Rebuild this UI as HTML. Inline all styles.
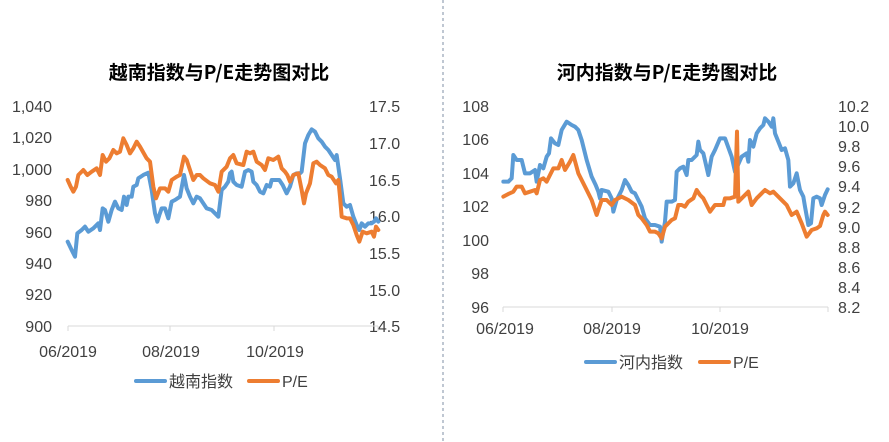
<!DOCTYPE html>
<html><head><meta charset="utf-8"><style>
body{margin:0;background:#fff;}
svg{display:block;font-family:"Liberation Sans","Noto Sans CJK SC",sans-serif;}
.t{font-size:16px;fill:#404040;}
.h{font-size:19px;font-weight:bold;fill:#000;font-family:"Noto Sans CJK SC","Liberation Sans",sans-serif;}
.l{fill:none;stroke-width:12;stroke-linejoin:round;stroke-linecap:round;}
</style></head><body>
<svg width="889" height="442" viewBox="0 0 889 442">
<line x1="443" y1="0" x2="443" y2="442" stroke="#7f8fa6" stroke-dasharray="3,3" stroke-width="1"/>
<!-- Left chart -->
<text class="h" x="219" y="79" text-anchor="middle">越南指数与P/E走势图对比</text>
<g class="t" text-anchor="end">
<text x="52" y="112">1,040</text><text x="52" y="143">1,020</text><text x="52" y="175">1,000</text>
<text x="52" y="206">980</text><text x="52" y="238">960</text><text x="52" y="269">940</text>
<text x="52" y="300">920</text><text x="52" y="332">900</text>
</g>
<g class="t">
<text x="369" y="112">17.5</text><text x="369" y="149">17.0</text><text x="369" y="186">16.5</text>
<text x="369" y="222">16.0</text><text x="369" y="259">15.5</text><text x="369" y="296">15.0</text>
<text x="369" y="332">14.5</text>
</g>
<line x1="68" y1="326" x2="378" y2="326" stroke="#d9d9d9"/>
<g stroke="#d9d9d9"><line x1="68" y1="326" x2="68" y2="331"/><line x1="170" y1="326" x2="170" y2="331"/><line x1="274" y1="326" x2="274" y2="331"/><line x1="378" y1="326" x2="378" y2="331"/></g>
<g class="t" text-anchor="middle"><text x="68" y="357">06/2019</text><text x="171" y="357">08/2019</text><text x="275" y="357">10/2019</text></g>
<g transform="translate(0,90) scale(0.33333)">
<polyline class="l" stroke="#5b9bd5" points="203,455 215,480 225,500 232,430 245,420 255,410 265,425 280,415 295,400 300,420 308,355 315,360 325,395 335,360 345,335 355,355 365,360 372,320 380,345 385,320 395,320 400,290 410,285 415,265 430,255 445,248 455,300 465,370 472,395 478,375 485,355 495,355 505,385 515,335 525,330 540,320 552,255 560,295 570,320 580,340 590,320 600,325 610,340 620,355 635,360 645,370 655,380 665,300 675,290 685,275 690,250 695,245 700,275 710,285 725,290 735,245 745,240 755,245 760,275 770,285 780,305 790,310 800,285 810,290 815,270 830,270 838,270 848,285 860,310 870,290 880,255 890,250 900,250 905,245 915,160 925,135 935,118 945,125 955,145 965,155 975,170 985,180 995,195 1005,210 1010,195 1020,265 1030,340 1040,350 1050,345 1060,380 1070,405 1078,420 1085,400 1095,410 1105,400 1115,400 1122,395 1128,385 1135,395"/>
<polyline class="l" stroke="#ed7d31" points="203,270 212,290 220,305 228,290 235,255 250,240 262,255 275,245 290,235 300,255 308,195 318,215 328,205 340,180 350,190 360,185 370,145 380,165 390,190 400,175 410,155 420,170 440,205 450,215 460,290 468,325 480,295 495,295 505,305 515,270 530,260 540,255 552,200 560,210 570,240 580,270 590,255 600,255 610,265 630,280 645,285 655,305 665,245 680,230 690,205 700,195 710,220 730,225 740,185 750,190 760,185 770,215 785,225 795,240 805,205 820,210 835,200 845,235 855,245 862,255 870,275 880,255 895,250 905,300 912,340 918,310 930,280 940,220 950,215 960,225 975,235 985,255 995,260 1008,280 1015,270 1020,320 1025,380 1040,385 1050,385 1060,405 1070,435 1078,455 1088,425 1100,430 1115,425 1122,440 1128,410 1135,420"/>
</g>
<line x1="136" y1="381" x2="165" y2="381" stroke="#5b9bd5" stroke-width="4" stroke-linecap="round"/>
<text class="t" x="169" y="387">越南指数</text>
<line x1="249" y1="381" x2="278" y2="381" stroke="#ed7d31" stroke-width="4" stroke-linecap="round"/>
<text class="t" x="282" y="387">P/E</text>
<!-- Right chart -->
<text class="h" x="667" y="79" text-anchor="middle">河内指数与P/E走势图对比</text>
<g class="t" text-anchor="end">
<text x="489" y="112">108</text><text x="489" y="145">106</text><text x="489" y="179">104</text>
<text x="489" y="212">102</text><text x="489" y="246">100</text><text x="489" y="279">98</text>
<text x="489" y="313">96</text>
</g>
<g class="t">
<text x="838" y="112">10.2</text><text x="838" y="132">10.0</text><text x="838" y="152">9.8</text>
<text x="838" y="172">9.6</text><text x="838" y="192">9.4</text><text x="838" y="213">9.2</text>
<text x="838" y="233">9.0</text><text x="838" y="253">8.8</text><text x="838" y="273">8.6</text>
<text x="838" y="293">8.4</text><text x="838" y="313">8.2</text>
</g>
<line x1="503" y1="307" x2="828" y2="307" stroke="#d9d9d9"/>
<g stroke="#d9d9d9"><line x1="503" y1="307" x2="503" y2="312"/><line x1="612" y1="307" x2="612" y2="312"/><line x1="720" y1="307" x2="720" y2="312"/><line x1="828" y1="307" x2="828" y2="312"/></g>
<g class="t" text-anchor="middle"><text x="505" y="334">06/2019</text><text x="612" y="334">08/2019</text><text x="720" y="334">10/2019</text></g>
<g transform="translate(445,90) scale(0.33333)">
<polyline class="l" stroke="#5b9bd5" points="175,275 190,275 200,265 205,195 215,210 230,210 240,250 255,250 270,240 275,275 285,225 295,235 305,200 312,190 318,145 330,160 340,165 350,120 365,95 380,105 390,110 400,120 410,150 425,210 440,260 452,285 460,305 465,325 470,300 490,305 500,325 505,365 515,330 530,300 540,270 550,285 560,305 570,310 580,330 590,350 600,385 615,405 630,405 645,410 650,455 660,395 665,335 680,335 690,330 695,245 705,235 715,230 725,255 730,210 740,210 755,195 760,155 765,180 775,190 790,255 800,200 810,180 825,145 840,145 860,200 870,245 890,200 905,190 910,215 915,150 925,170 935,130 945,115 955,105 960,85 970,95 980,110 985,85 990,130 1000,155 1010,180 1020,175 1030,210 1035,290 1045,280 1055,250 1065,300 1075,320 1080,350 1090,405 1098,400 1105,325 1115,320 1125,325 1130,345 1140,315 1148,298"/>
<polyline class="l" stroke="#ed7d31" points="175,320 190,312 205,305 215,290 230,290 240,310 255,305 270,300 275,310 285,270 295,265 305,275 325,235 340,235 350,210 360,240 375,215 385,195 400,250 420,290 440,330 455,375 470,330 485,330 500,345 510,330 530,320 550,330 570,345 580,375 590,385 605,405 615,425 630,425 640,430 650,445 660,410 680,390 690,385 700,345 710,345 720,350 730,335 745,325 755,300 765,315 775,325 785,345 795,365 810,345 825,345 835,345 840,325 855,325 870,320 876,125 880,335 895,320 910,305 920,345 935,325 950,310 960,300 975,310 985,305 1000,320 1015,335 1025,345 1030,355 1040,375 1055,365 1070,400 1085,440 1100,420 1115,415 1125,408 1135,375 1140,365 1148,375"/>
</g>
<line x1="586" y1="362" x2="615" y2="362" stroke="#5b9bd5" stroke-width="4" stroke-linecap="round"/>
<text class="t" x="619" y="368">河内指数</text>
<line x1="700" y1="362" x2="729" y2="362" stroke="#ed7d31" stroke-width="4" stroke-linecap="round"/>
<text class="t" x="733" y="368">P/E</text>
</svg>
</body></html>
